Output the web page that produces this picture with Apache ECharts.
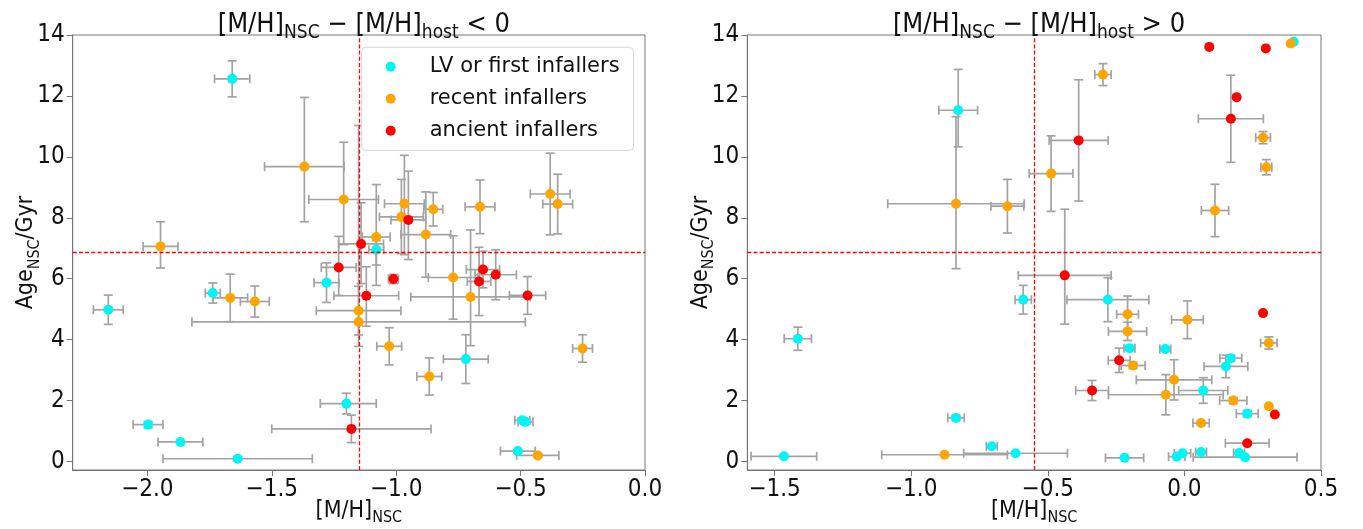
<!DOCTYPE html>
<html>
<head>
<meta charset="utf-8">
<script src="https://cdn.jsdelivr.net/npm/echarts@6/dist/echarts.min.js"></script>
<style>
  html, body { margin: 0; padding: 0; background: #fff; }
  #chart { width: 1363px; height: 529px; }
</style>
</head>
<body>
<div id="chart"></div>
<script>
// Each row: [ [M/H]_NSC, Age_NSC (Gyr), x err low, x err high, age err low, age err high ]

// Panel 1: [M/H]_NSC - [M/H]_host < 0
const lowLV = [
  [-1.659, 12.56, 0.071, 0.071, 0.59, 0.59],
  [-1.080, 6.95, 0.03, 0.03, 0.50, 0.30],
  [-1.280, 5.87, 0.05, 0.05, 0.65, 0.65],
  [-2.157, 4.98, 0.06, 0.06, 0.48, 0.48],
  [-1.737, 5.53, 0.03, 0.03, 0.33, 0.33],
  [-1.997, 1.21, 0.06, 0.06, 0.10, 0.10],
  [-1.867, 0.64, 0.09, 0.09, 0.05, 0.05],
  [-1.637, 0.09, 0.30, 0.30, 0.05, 0.05],
  [-1.200, 1.90, 0.105, 0.12, 0.34, 0.34],
  [-0.720, 3.36, 0.09, 0.09, 0.80, 0.80],
  [-0.493, 1.35, 0.03, 0.03, 0.05, 0.05],
  [-0.480, 1.30, 0.03, 0.03, 0.05, 0.05],
  [-0.511, 0.34, 0.07, 0.07, 0.05, 0.05]
];
const lowRecent = [
  [-1.369, 9.68, 0.16, 0.16, 1.81, 2.27],
  [-1.211, 8.60, 0.14, 0.14, 1.48, 1.88],
  [-1.947, 7.06, 0.07, 0.07, 0.71, 0.81],
  [-1.080, 7.37, 0.056, 0.056, 1.59, 1.72],
  [-0.967, 8.46, 0.08, 0.08, 1.67, 1.59],
  [-0.979, 8.03, 0.088, 0.088, 1.20, 1.23],
  [-0.851, 8.28, 0.038, 0.038, 0.55, 0.55],
  [-0.881, 7.45, 0.10, 0.10, 1.40, 1.40],
  [-0.663, 8.36, 0.06, 0.06, 0.88, 0.88],
  [-0.381, 8.78, 0.08, 0.08, 1.34, 1.34],
  [-0.351, 8.45, 0.06, 0.06, 0.98, 0.98],
  [-1.151, 4.95, 0.17, 0.17, 0.80, 0.80],
  [-1.151, 4.58, 0.67, 0.67, 0.80, 6.45],
  [-0.771, 6.04, 0.10, 0.10, 1.37, 1.37],
  [-0.701, 5.40, 0.24, 0.24, 1.60, 2.20],
  [-1.667, 5.37, 0.07, 0.07, 0.78, 0.78],
  [-1.568, 5.25, 0.058, 0.058, 0.51, 0.51],
  [-1.028, 3.78, 0.05, 0.05, 0.61, 0.61],
  [-0.867, 2.79, 0.05, 0.05, 0.61, 0.61],
  [-0.251, 3.71, 0.04, 0.04, 0.45, 0.45],
  [-0.431, 0.20, 0.085, 0.085, 0.05, 0.05]
];
const lowAncient = [
  [-1.141, 7.14, 0.09, 0.09, 1.30, 1.35],
  [-0.951, 7.93, 0.07, 0.07, 1.30, 1.60],
  [-1.231, 6.37, 0.07, 0.07, 0.92, 1.02],
  [-1.011, 5.99, 0.02, 0.02, 0.15, 0.15],
  [-1.120, 5.44, 0.13, 0.13, 1.00, 0.95],
  [-0.667, 5.91, 0.047, 0.047, 1.12, 1.12],
  [-0.651, 6.30, 0.067, 0.067, 0.60, 0.60],
  [-0.600, 6.13, 0.083, 0.083, 0.82, 0.82],
  [-0.472, 5.45, 0.073, 0.073, 0.62, 0.62],
  [-1.180, 1.07, 0.32, 0.32, 0.45, 0.45]
];

// Panel 2: [M/H]_NSC - [M/H]_host > 0
const highLV = [
  [-0.828, 11.53, 0.071, 0.071, 1.20, 1.34],
  [-1.415, 4.03, 0.05, 0.05, 0.38, 0.38],
  [-1.466, 0.17, 0.12, 0.12, 0.03, 0.03],
  [-0.836, 1.43, 0.03, 0.03, 0.08, 0.08],
  [-0.705, 0.50, 0.02, 0.02, 0.05, 0.05],
  [-0.618, 0.27, 0.19, 0.19, 0.03, 0.03],
  [-0.590, 5.31, 0.03, 0.03, 0.47, 0.47],
  [-0.280, 5.31, 0.15, 0.15, 0.72, 0.72],
  [-0.201, 3.72, 0.02, 0.02, 0.05, 0.05],
  [-0.070, 3.69, 0.02, 0.02, 0.05, 0.05],
  [0.170, 3.39, 0.04, 0.04, 0.10, 0.10],
  [0.152, 3.12, 0.08, 0.08, 0.37, 0.37],
  [0.069, 2.33, 0.09, 0.09, 0.42, 0.42],
  [0.230, 1.57, 0.04, 0.04, 0.10, 0.10],
  [-0.219, 0.12, 0.07, 0.07, 0.03, 0.03],
  [-0.028, 0.16, 0.03, 0.03, 0.03, 0.03],
  [-0.007, 0.27, 0.03, 0.03, 0.03, 0.03],
  [0.061, 0.31, 0.02, 0.02, 0.03, 0.03],
  [0.200, 0.28, 0.02, 0.02, 0.03, 0.03],
  [0.222, 0.14, 0.19, 0.19, 0.03, 0.03],
  [0.400, 13.78, 0, 0, 0, 0]
];
const highRecent = [
  [-0.836, 8.46, 0.25, 0.25, 2.13, 2.86],
  [-0.648, 8.38, 0.06, 0.06, 0.88, 0.88],
  [-0.298, 12.70, 0.03, 0.03, 0.36, 0.36],
  [-0.488, 9.45, 0.08, 0.08, 1.24, 1.24],
  [0.389, 13.72, 0, 0, 0, 0],
  [0.288, 10.63, 0.027, 0.027, 0.20, 0.20],
  [0.300, 9.66, 0.02, 0.02, 0.25, 0.25],
  [0.112, 8.24, 0.05, 0.05, 0.86, 0.86],
  [-0.878, 0.22, 0.23, 0.23, 0.03, 0.03],
  [-0.208, 4.83, 0.04, 0.04, 0.60, 0.60],
  [-0.208, 4.27, 0.07, 0.07, 0.30, 0.30],
  [0.011, 4.65, 0.058, 0.058, 0.62, 0.62],
  [0.309, 3.89, 0.03, 0.03, 0.20, 0.20],
  [-0.188, 3.15, 0.044, 0.044, 0.10, 0.10],
  [-0.038, 2.68, 0.138, 0.138, 0.66, 0.66],
  [-0.068, 2.19, 0.21, 0.21, 0.66, 0.66],
  [0.179, 2.00, 0.05, 0.05, 0.10, 0.10],
  [0.309, 1.81, 0, 0, 0, 0],
  [0.061, 1.26, 0.03, 0.03, 0.05, 0.05]
];
const highAncient = [
  [-0.387, 10.54, 0.108, 0.108, 1.99, 1.99],
  [-0.438, 6.11, 0.17, 0.17, 1.60, 2.17],
  [0.091, 13.61, 0, 0, 0, 0],
  [0.298, 13.56, 0, 0, 0, 0],
  [0.191, 11.96, 0, 0, 0, 0],
  [0.170, 11.25, 0.119, 0.119, 1.43, 1.43],
  [0.288, 4.87, 0, 0, 0, 0],
  [-0.239, 3.32, 0.04, 0.04, 0.40, 0.40],
  [-0.338, 2.33, 0.06, 0.06, 0.33, 0.33],
  [0.331, 1.54, 0, 0, 0, 0],
  [0.230, 0.60, 0.08, 0.08, 0.05, 0.05]
];

// Median [M/H]_NSC of each subsample and the overall median age
const medianMH = [-1.153, -0.552];
const medianAge = 6.88;

const groupNames = ['LV or first infallers', 'recent infallers', 'ancient infallers'];
const groupColors = ['#00f5f5', '#ffa500', '#ff0000'];

const xTicksLow = [-2.0, -1.5, -1.0, -0.5, 0.0];
const xTicksHigh = [-1.5, -1.0, -0.5, 0.0, 0.5];
const yTicks = [0, 2, 4, 6, 8, 10, 12, 14];

const titles = [
  '{a|[M/H]}{s|NSC}{a| − [M/H]}{s|host}{a| < 0}',
  '{a|[M/H]}{s|NSC}{a| − [M/H]}{s|host}{a| > 0}'
];

const FONT = "'DejaVu Sans Condensed', 'DejaVu Sans', sans-serif";
const LEGEND_FONT = "'DejaVu Sans', sans-serif";
const ERR_COLOR = '#a3a3a3';
const CAP = 4.5;

const richText = (size, drop) => ({
  a: { fontFamily: FONT, fontWeight: 'normal', fontSize: size, color: '#111', verticalAlign: 'bottom', lineHeight: size + 4 },
  s: { fontFamily: FONT, fontWeight: 'normal', fontSize: Math.round(size * 0.7), color: '#111', verticalAlign: 'bottom',
       lineHeight: size + 4, padding: [0, 0, -(drop === undefined ? Math.round(size * 0.2) : drop), 0] }
});

const grids = [
  { left: 72.7, top: 35, width: 572.3, height: 435 },
  { left: 747.3, top: 35, width: 573.7, height: 435 }
];

function fmtX(v) {
  return v.toFixed(1).replace('-', '\u2212');
}

function makeXAxis(i, min, max, ticks) {
  return {
    type: 'value', gridIndex: i, min: min, max: max,
    name: '{a|[M/H]}{s|NSC}', nameLocation: 'middle', nameGap: 26, nameMoveOverlap: false,
    nameTextStyle: { rich: richText(23, 3) },
    axisLine: { show: true, onZero: false, lineStyle: { color: '#777', width: 1 } },
    axisTick: { show: true, inside: false, length: 6, customValues: ticks, lineStyle: { color: '#777' } },
    axisLabel: { customValues: ticks, formatter: fmtX, fontFamily: FONT, fontSize: 24, color: '#111', margin: 8 },
    splitLine: { show: false }
  };
}

function makeYAxis(i, gap) {
  return {
    type: 'value', gridIndex: i, min: -0.28, max: 14,
    name: '{a|Age}{s|NSC}{a|/Gyr}', nameLocation: 'middle', nameRotate: 90, nameGap: gap, nameMoveOverlap: false,
    nameTextStyle: { rich: richText(23) },
    axisLine: { show: true, onZero: false, lineStyle: { color: '#777', width: 1 } },
    axisTick: { show: true, inside: false, length: 6, customValues: yTicks, lineStyle: { color: '#777' } },
    axisLabel: { customValues: yTicks, fontFamily: FONT, fontSize: 24, color: '#111', margin: 8 },
    splitLine: { show: false }
  };
}

// Cross-shaped error bars with caps
function renderErr(params, api) {
  const x = api.value(0), y = api.value(1);
  const xl = api.value(2), xh = api.value(3), yl = api.value(4), yh = api.value(5);
  const style = { stroke: ERR_COLOR, lineWidth: 1.7, fill: null };
  const children = [];
  if (xl > 0 || xh > 0) {
    const a = api.coord([x - xl, y]), b = api.coord([x + xh, y]);
    children.push({ type: 'line', shape: { x1: a[0], y1: a[1], x2: b[0], y2: b[1] }, style: style });
    children.push({ type: 'line', shape: { x1: a[0], y1: a[1] - CAP, x2: a[0], y2: a[1] + CAP }, style: style });
    children.push({ type: 'line', shape: { x1: b[0], y1: b[1] - CAP, x2: b[0], y2: b[1] + CAP }, style: style });
  }
  if (yl > 0 || yh > 0) {
    const a = api.coord([x, y - yl]), b = api.coord([x, y + yh]);
    children.push({ type: 'line', shape: { x1: a[0], y1: a[1], x2: b[0], y2: b[1] }, style: style });
    children.push({ type: 'line', shape: { x1: a[0] - CAP, y1: a[1], x2: a[0] + CAP, y2: a[1] }, style: style });
    children.push({ type: 'line', shape: { x1: b[0] - CAP, y1: b[1], x2: b[0] + CAP, y2: b[1] }, style: style });
  }
  return { type: 'group', children: children };
}

const panels = [
  [lowLV, lowRecent, lowAncient],
  [highLV, highRecent, highAncient]
];

const series = [];
panels.forEach((groups, p) => {
  groups.forEach((rows, g) => {
    series.push({
      type: 'custom', xAxisIndex: p, yAxisIndex: p, clip: true, silent: true,
      renderItem: renderErr, data: rows, z: 2,
      encode: { x: 0, y: 1 }
    });
  });
  groups.forEach((rows, g) => {
    const s = {
      name: groupNames[g], type: 'scatter', xAxisIndex: p, yAxisIndex: p,
      data: rows.map(r => [r[0], r[1]]),
      symbol: 'circle', symbolSize: 10,
      itemStyle: { color: groupColors[g], opacity: 1 },
      z: 4 + g
    };
    if (g === 0) {
      s.markLine = {
        silent: true, symbol: ['none', 'none'], label: { show: false },
        lineStyle: { color: '#ff0000', type: [4, 2.2], width: 1.3 },
        data: [{ xAxis: medianMH[p] }, { yAxis: medianAge }],
        animation: false
      };
    }
    series.push(s);
  });
});

const chart = echarts.init(document.getElementById('chart'), null, { renderer: 'canvas' });
chart.setOption({
  animation: false,
  backgroundColor: '#ffffff',
  title: [
    { text: titles[0], left: 358.8, top: 2, textAlign: 'center', textStyle: { fontWeight: 'normal', rich: richText(27) } },
    { text: titles[1], left: 1034, top: 2, textAlign: 'center', textStyle: { fontWeight: 'normal', rich: richText(27) } }
  ],
  grid: grids.map(g => Object.assign({
    show: true, borderColor: '#777', borderWidth: 1, backgroundColor: 'transparent',
    containLabel: false, outerBoundsMode: 'none'
  }, g)),
  xAxis: [makeXAxis(0, -2.3, 0.0, xTicksLow), makeXAxis(1, -1.6, 0.5, xTicksHigh)],
  yAxis: [makeYAxis(0, 35), makeYAxis(1, 35)],
  legend: {
    data: groupNames, orient: 'vertical', left: 361.7, top: 47.3,
    icon: 'circle', itemWidth: 10, itemHeight: 10, itemGap: 11,
    padding: [9, 14, 9, 24],
    backgroundColor: '#ffffff', borderColor: '#d6d6d6', borderWidth: 1, borderRadius: 4,
    formatter: name => '{g|}' + name,
    textStyle: { fontFamily: LEGEND_FONT, fontSize: 21, color: '#111',
                 rich: { g: { width: 29 } } },
    selectedMode: false
  },
  series: series
});
</script>
</body>
</html>
